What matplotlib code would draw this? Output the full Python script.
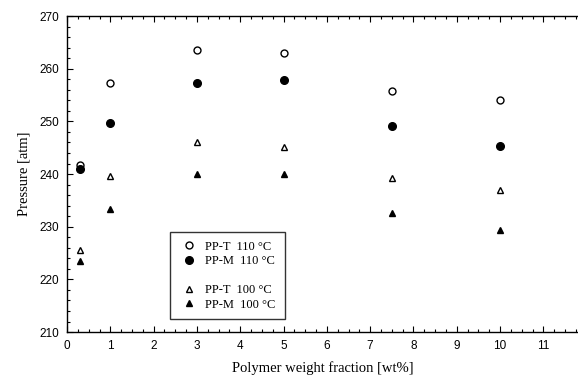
import numpy as np
import matplotlib.pyplot as plt
from matplotlib.lines import Line2D
from matplotlib.ticker import MultipleLocator

# polymer weight fraction [wt%]
wt = [0.3, 1, 3, 5, 7.5, 10]
# pressure [atm]
ppt_110 = [241.7, 257.3, 263.6, 263.0, 255.8, 254.1]
ppm_110 = [241.0, 249.7, 257.3, 257.9, 249.2, 245.4]
ppt_100 = [225.6, 239.6, 246.1, 245.2, 239.2, 237.0]
ppm_100 = [223.5, 233.3, 240.1, 240.1, 232.7, 229.4]
labels = ['PP-T  110 °C', 'PP-M  110 °C', 'PP-T  100 °C', 'PP-M  100 °C']

serif = 'Liberation Serif'
sans = 'Liberation Sans'

fig = plt.figure(figsize=(5.78, 3.83), dpi=100)
ax = fig.add_axes([0.116, 0.133, 0.884, 0.825])

ax.plot(wt, ppt_110, 'o', ms=5, mfc='white', mec='black', mew=1.0)
ax.plot(wt, ppm_110, 'o', ms=5.5, mfc='black', mec='black')
ax.plot(wt, ppt_100, '^', ms=4, mfc='white', mec='black', mew=1.0)
ax.plot(wt, ppm_100, '^', ms=4.5, mfc='black', mec='black')

ax.set_xlim(0, 11.8)
ax.set_ylim(210, 270)
ax.xaxis.set_major_locator(MultipleLocator(1))
ax.xaxis.set_minor_locator(MultipleLocator(0.25))
ax.yaxis.set_major_locator(MultipleLocator(10))
ax.yaxis.set_minor_locator(MultipleLocator(2))
ax.tick_params(which='both', direction='in', top=True, right=False,
               width=0.8, colors='black')
ax.tick_params(which='major', length=4, labelsize=8.5, pad=6)
ax.tick_params(which='minor', length=2)
for t in ax.get_xticklabels() + ax.get_yticklabels():
    t.set_family(sans)
ax.spines['right'].set_visible(False)
for s in ['left', 'top', 'bottom']:
    ax.spines[s].set_linewidth(1.0)

ax.set_xlabel('Polymer weight fraction [wt%]', family=serif, fontsize=10.5, labelpad=6)
ax.set_ylabel('Pressure [atm]', family=serif, fontsize=10.5, labelpad=6)

# legend with a blank row between the two temperatures
h = [Line2D([], [], ls='', marker='o', ms=5, mfc='white', mec='black'),
     Line2D([], [], ls='', marker='o', ms=5.5, mfc='black', mec='black'),
     Line2D([], [], ls='', marker=''),
     Line2D([], [], ls='', marker='^', ms=4, mfc='white', mec='black'),
     Line2D([], [], ls='', marker='^', ms=4.5, mfc='black', mec='black')]
l = labels[:2] + [''] + labels[2:]
leg = ax.legend(h, l, loc='lower left', bbox_to_anchor=(0.19, 0.02),
                prop={'family': serif, 'size': 9}, frameon=True, fancybox=False,
                edgecolor='black', handletextpad=0.6, labelspacing=0.2,
                borderpad=0.7, handlelength=1.5)
leg.get_frame().set_linewidth(1.0)

plt.savefig('out.png', dpi=100)
